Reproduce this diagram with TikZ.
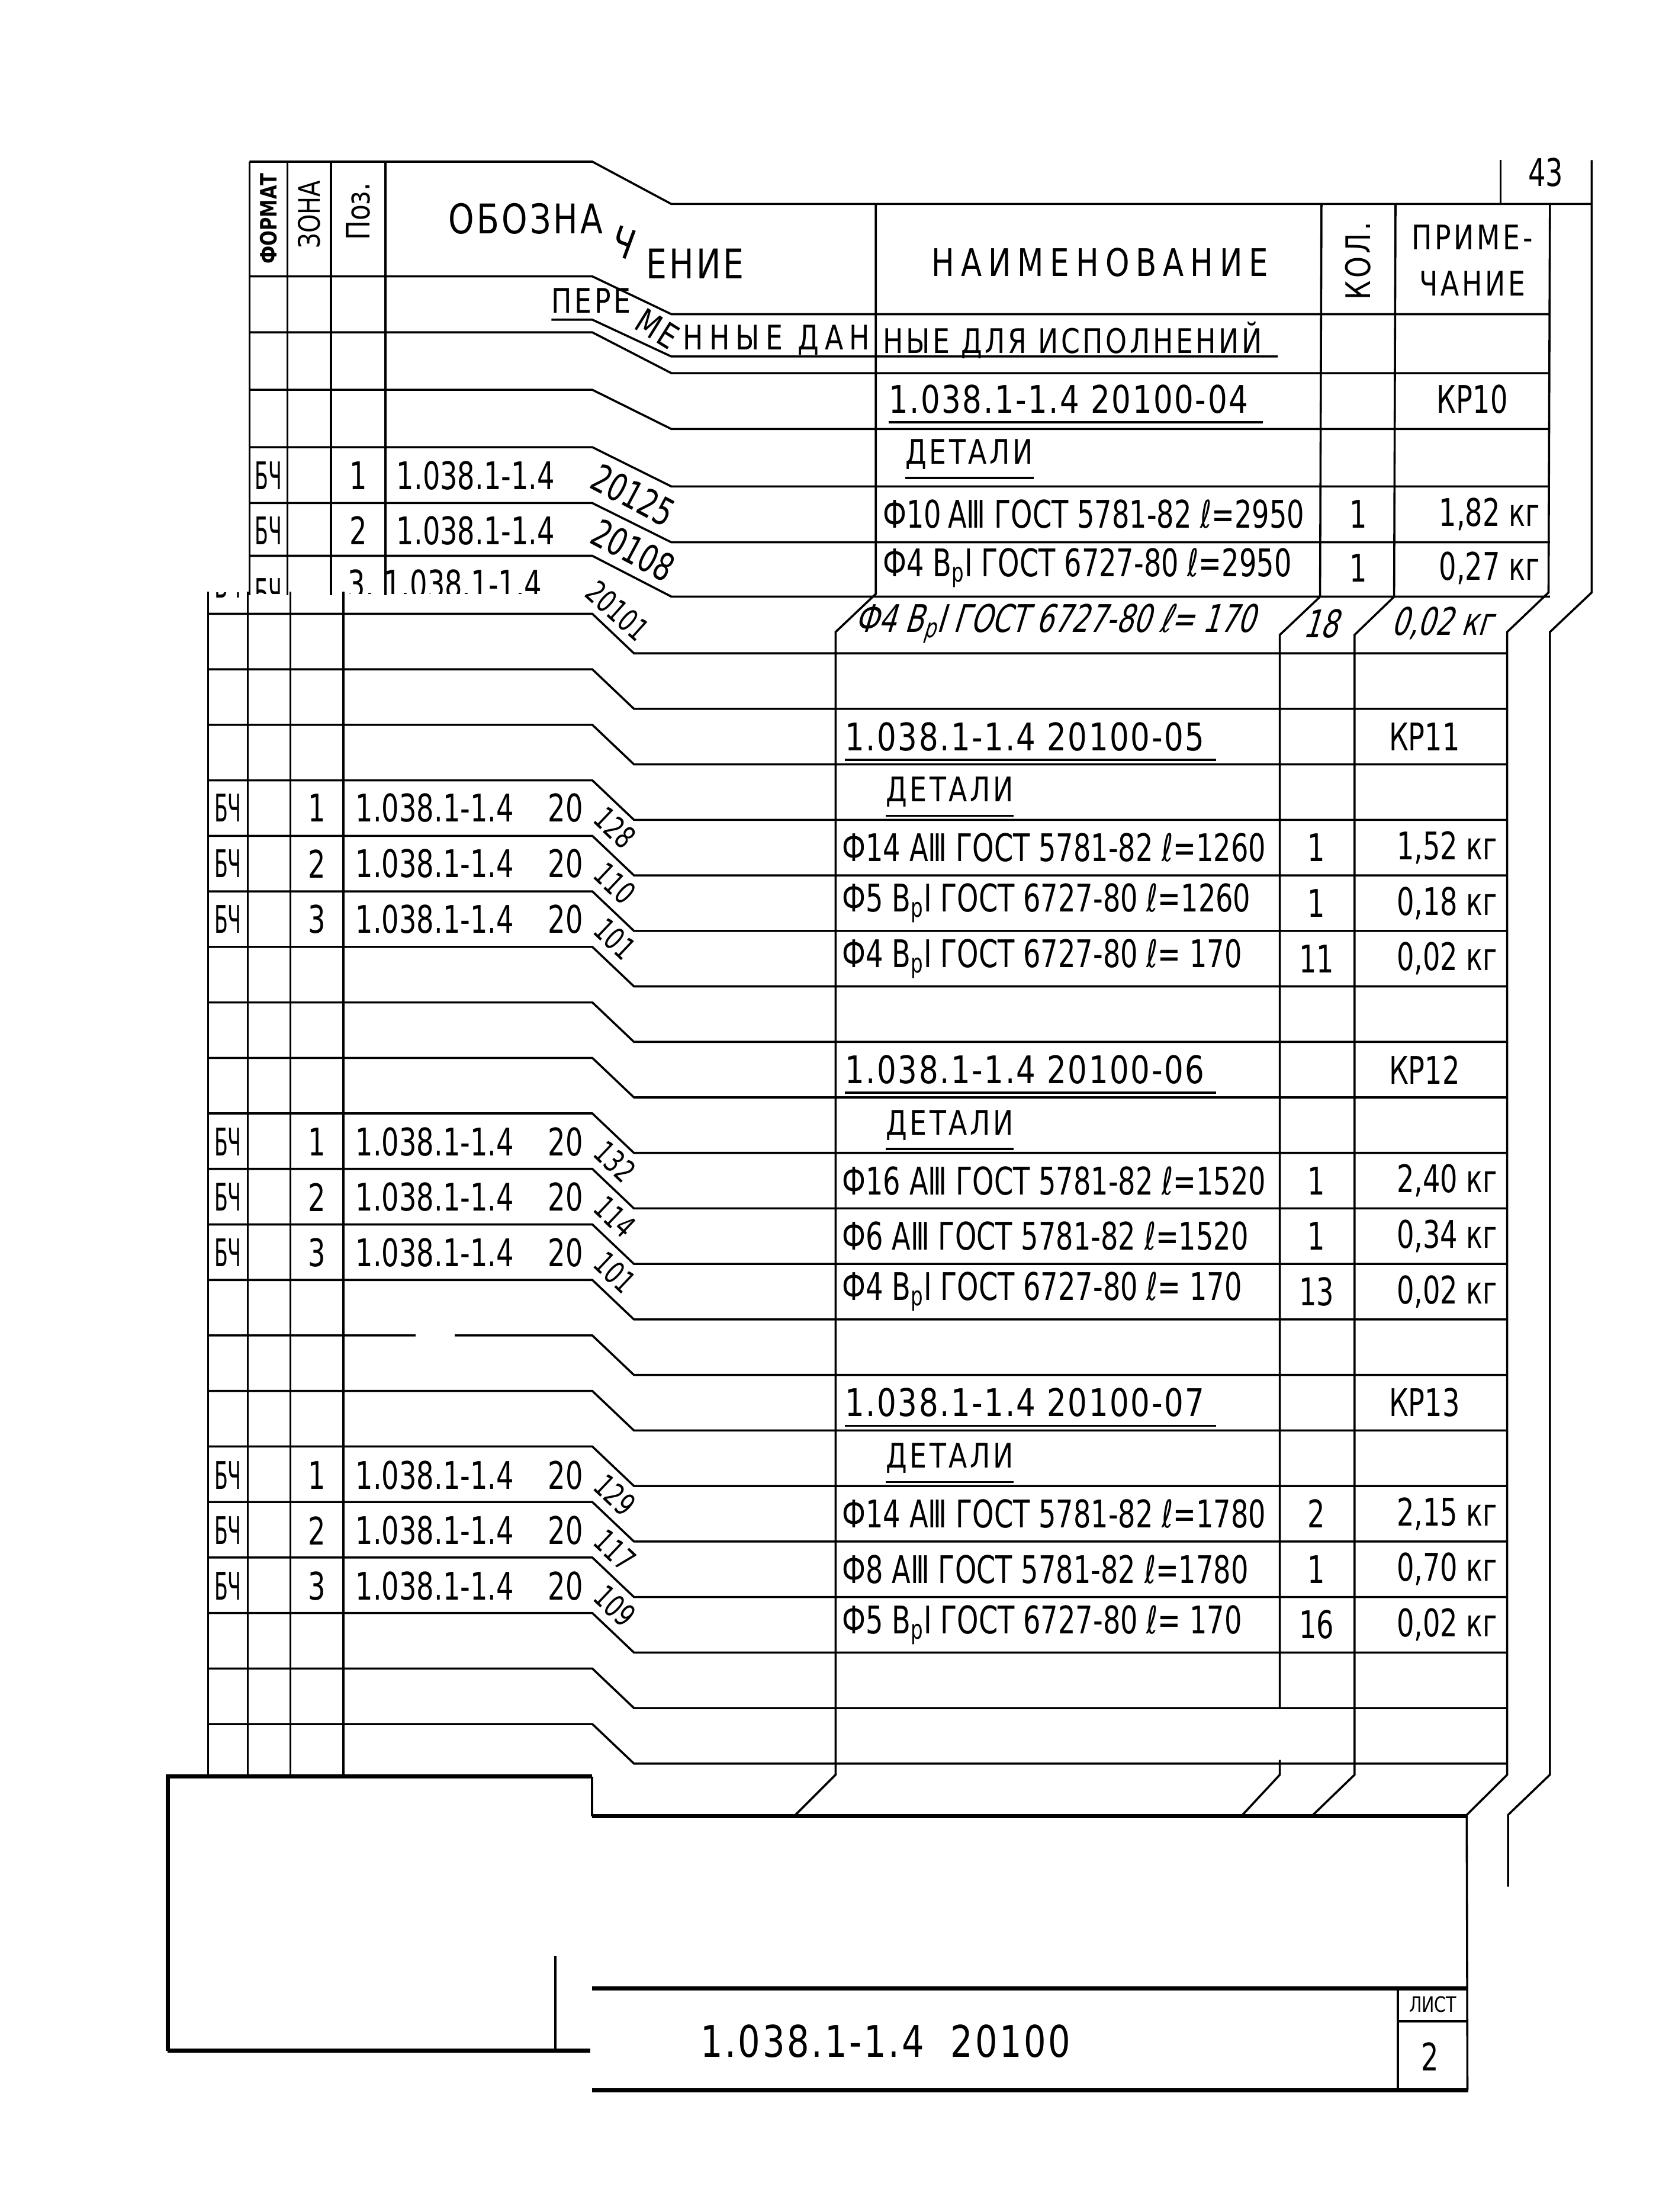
\documentclass[tikz,border=0pt]{standalone}
\usepackage{fontspec}
\setmainfont{DejaVu Sans}[FakeStretch=0.8]
\newfontfamily\narrowfont{DejaVu Sans}[FakeStretch=0.72]
\usepackage{graphicx}
\usepackage{tikz}

\newcommand\tfont{\narrowfont\fontsize{27}{29}\selectfont}
\newcommand\vfont{\fontsize{27}{29}\selectfont\addfontfeature{LetterSpace=4}}
\newcommand\sfxfont{\narrowfont\fontsize{22}{24}\selectfont}
\newcommand\hfont{\fontsize{27}{29}\selectfont\addfontfeature{LetterSpace=17}}
\newcommand\pfont{\fontsize{24}{26}\selectfont\addfontfeature{LetterSpace=8}}
\newcommand\bfont{\fontsize{29}{31}\selectfont\addfontfeature{LetterSpace=6}}
\newcommand\ifont{\narrowfont\fontsize{27}{29}\selectfont\addfontfeature{FakeSlant=0.3}}
\newcommand\Vp{В\textsubscript{р}Ⅰ}
\newcommand\BCh{\scalebox{0.72}[1]{БЧ}}

\newcommand\specrow[5]{%
  \node[cell,anchor=west] (n#1) at (597,#2) {#3};
  \node[cell] (q#1) at (933.5,#2) {#4};
  \node[cell,anchor=east] (m#1) at (1062,#2) {#5};}
\newcommand\posrow[4]{%
  \node[cell] (f#1) at (161.6,#2) {\BCh};
  \node[cell] (p#1) at (224.8,#2) {#3};
  \node[cell,anchor=west] (o#1) at (252,#2) {1.038.1-1.4};
  \node[cell] (t#1) at (401,#2) {20};
  \node[cell,font=\sfxfont,rotate=-43.5] (s#1) at (436,#2+14) {#4};}
\newcommand\varrow[4]{%
  \node[cell,anchor=west,font=\vfont] (v#1) at (599,#2) {1.038.1-1.4 20100-#3};
  \draw[rule] ([yshift=-6pt]v#1.south west) -- ([xshift=8pt,yshift=-6pt]v#1.south east);
  \node[cell] (k#1) at (1010,#2) {#4};}
\newcommand\detrow[2]{%
  \node[cell,anchor=west,font=\pfont] (d#1) at (628,#2) {ДЕТАЛИ};
  \draw[rule] ([yshift=-6pt]d#1.south west) -- ([yshift=-6pt]d#1.south east);}

\tikzset{
  rule/.style={line width=1.5pt},
  thickrule/.style={line width=3pt},
  cell/.style={inner sep=0pt,font=\tfont},
  htxt/.style={inner sep=0pt,font=\hfont},
  btxt/.style={inner sep=0pt,font=\bfont}
}

\begin{document}
\begin{tikzpicture}[x=1pt,y=-1pt]
  \fill[white] (0,0) rectangle (1174,1568);
  \useasboundingbox (0,0) rectangle (1174,1568);

  \draw[rule] (176.9,114.6) -- (420,114.6) -- (476,144.6) -- (1128.6,144.6);
  \foreach \a/\b in {195.9/222.7,235.6/264.5,276.3/304.1,317/344.8,356.6/384.4,394/422.9}
    \draw[rule] (176.9,\a) -- (420,\a) -- (476,\b) -- (1099,\b);
  \foreach \x in {176.9,203.9,234.7,273.2}
    \draw[rule] (\x,114.6) -- (\x,422);
  \draw[rule] (1064,113.5) -- (1064,144.6);
  \draw[rule] (621,144.6) -- (621,421) -- (592.5,448) -- (592.5,1258) -- (564,1286.5);
  \draw[rule] (937,144.6) -- (936,423) -- (907.5,450) -- (907.5,1210.5);
  \draw[rule] (907.5,1247.5) -- (907.5,1258) -- (881,1286.5);
  \draw[rule] (989.5,144.6) -- (988.5,423) -- (960.5,450) -- (960.5,1258) -- (931,1286.5);
  \draw[rule] (1099,144.6) -- (1098,420) -- (1068.7,448) -- (1068.7,1258) -- (1040,1286.5) -- (1040.5,1481.6);
  \draw[rule] (1128.6,113.5) -- (1128.6,420) -- (1099,448) -- (1099,1258) -- (1069.3,1286.5) -- (1069.3,1337.3);

  \foreach \k in {0,...,20}{
    \pgfmathsetmacro\ya{435.1+39.35*\k}
    \pgfmathsetmacro\yb{\ya+28}
    \draw[rule] (147.5,\ya) -- (420,\ya) -- (449.5,\yb) -- (1068.7,\yb);
  }
  \fill[white] (294.6,943) rectangle (322.4,950);
  \foreach \x in {147.5,175.7,206,243.5}
    \draw[rule] (\x,419.5) -- (\x,1259.3);

  \draw[thickrule] (118.9,1453.6) -- (118.9,1259.3) -- (419.7,1259.3);
  \draw[rule] (419.7,1259.3) -- (419.7,1287.5);
  \draw[thickrule] (419.7,1287.5) -- (1040,1287.5);
  \draw[thickrule] (118.9,1453.6) -- (418.7,1453.6);
  \draw[rule] (393.7,1386.5) -- (393.7,1453.6);
  \draw[thickrule] (419.6,1409.6) -- (1041,1409.6);
  \draw[thickrule] (419.6,1481.6) -- (1041,1481.6);
  \draw[rule] (991.2,1409.6) -- (991.2,1481.6);
  \draw[rule] (991.2,1432.7) -- (1041,1432.7);

  \node[inner sep=0pt,font=\fontsize{16}{17}\selectfont\bfseries,rotate=90] (hfmt) at (190.4,155) {ФОРМАТ};
  \node[inner sep=0pt,font=\fontsize{21}{22}\selectfont,rotate=90] (hzon) at (219.3,152) {ЗОНА};
  \node[inner sep=0pt,font=\fontsize{23}{24}\selectfont,rotate=90] (hpos) at (254,150) {Поз.};
  \node[btxt,anchor=west] (hobo) at (318,155) {ОБОЗНА};
  \node[btxt,rotate=-20] (hobc) at (442,172) {Ч};
  \node[btxt,anchor=west] (hobe) at (458,187) {ЕНИЕ};
  \node[htxt] (hnam) at (780,186) {НАИМЕНОВАНИЕ};
  \node[inner sep=0pt,font=\pfont,rotate=90] (hqty) at (963,185) {КОЛ.};
  \node[inner sep=0pt,font=\pfont] (hrm1) at (1044,168) {ПРИМЕ-};
  \node[inner sep=0pt,font=\pfont] (hrm2) at (1044,201) {ЧАНИЕ};
  \node[cell] (sheetno) at (1096,122) {43};

  \node[inner sep=0pt,font=\pfont,anchor=west] (var1) at (391,213) {ПЕРЕ};
  \node[inner sep=0pt,font=\pfont,rotate=-32] (var2) at (466,233) {МЕ};
  \node[inner sep=0pt,font=\pfont\addfontfeature{LetterSpace=18},anchor=east] (var3) at (617,241) {ННЫЕ ДАН};
  \node[inner sep=0pt,font=\pfont,anchor=west] (var4) at (626,241) {НЫЕ ДЛЯ ИСПОЛНЕНИЙ};
  \draw[rule] (391,226.6) -- (420,226.6) -- (476,252.7) -- (906,252.7);

  \node[cell,anchor=west,font=\vfont] (v0) at (630,283) {1.038.1-1.4 20100-04};
  \draw[rule] ([yshift=-6pt]v0.south west) -- ([xshift=10pt,yshift=-6pt]v0.south east);
  \node[cell] (k0) at (1044,283) {КР10};
  \node[cell,anchor=west,font=\pfont] (d0) at (642,322) {ДЕТАЛИ};
  \draw[rule] ([yshift=-6pt]d0.south west) -- ([yshift=-6pt]d0.south east);

  \node[cell] (uf1) at (190.4,337) {\BCh};
  \node[cell] (up1) at (254,337) {1};
  \node[cell,anchor=west] (uo1) at (281,337) {1.038.1-1.4};
  \node[cell,rotate=-28] (us1) at (449,351) {20125};
  \node[cell] (uf2) at (190.4,376) {\BCh};
  \node[cell] (up2) at (254,376) {2};
  \node[cell,anchor=west] (uo2) at (281,376) {1.038.1-1.4};
  \node[cell,rotate=-28] (us2) at (449,390) {20108};
  \node[cell,anchor=west] (un1) at (626,364.6) {Ф10\,АⅢ ГОСТ 5781-82 ℓ=2950};
  \node[cell] (uq1) at (963,364.6) {1};
  \node[cell,anchor=east] (um1) at (1092,364.6) {1,82 кг};
  \node[cell,anchor=west] (un2) at (626,402.6) {Ф4 \Vp\ ГОСТ 6727-80 ℓ=2950};
  \node[cell] (uq2) at (963,402.6) {1};
  \node[cell,anchor=east] (um2) at (1092,402.6) {0,27 кг};

  \begin{scope}
    \clip (170,395) rectangle (420,421);
    \node[cell] (uf3) at (190.4,420) {\BCh};
    \node[cell] (up3) at (256,414) {3.};
    \node[cell,anchor=west] (uo3) at (272,414) {1.038.1-1.4};
  \end{scope}
  \begin{scope}
    \clip (147.5,420) rectangle (176,436);
    \node[cell] (lf0) at (161.6,414) {\BCh};
  \end{scope}
  \node[cell,font=\sfxfont,rotate=-42] (us3) at (438,433) {20101};
  \node[inner sep=0pt,font=\ifont,anchor=west] (sn) at (606,442) {Ф4 \Vp\ ГОСТ 6727-80 ℓ= 170};
  \node[inner sep=0pt,font=\ifont] (sq) at (936,442) {18};
  \node[inner sep=0pt,font=\ifont,anchor=east] (sm) at (1058,442) {0,02 кг};

  \varrow{5}{522.15}{05}{КР11}
  \detrow{5}{561.5}
  \specrow{51}{600.85}{Ф14 АⅢ ГОСТ 5781-82 ℓ=1260}{1}{1,52 кг}
  \specrow{52}{640.2}{Ф5 \Vp\ ГОСТ 6727-80 ℓ=1260}{1}{0,18 кг}
  \specrow{53}{679.55}{Ф4 \Vp\ ГОСТ 6727-80 ℓ= 170}{11}{0,02 кг}
  \posrow{51}{572.85}{1}{128}
  \posrow{52}{612.2}{2}{110}
  \posrow{53}{651.55}{3}{101}

  \varrow{6}{758.25}{06}{КР12}
  \detrow{6}{797.6}
  \specrow{61}{836.95}{Ф16 АⅢ ГОСТ 5781-82 ℓ=1520}{1}{2,40 кг}
  \specrow{62}{876.3}{Ф6 АⅢ ГОСТ 5781-82 ℓ=1520}{1}{0,34 кг}
  \specrow{63}{915.65}{Ф4 \Vp\ ГОСТ 6727-80 ℓ= 170}{13}{0,02 кг}
  \posrow{61}{809.25}{1}{132}
  \posrow{62}{848.6}{2}{114}
  \posrow{63}{887.95}{3}{101}

  \varrow{7}{994.35}{07}{КР13}
  \detrow{7}{1033.7}
  \specrow{71}{1073.05}{Ф14 АⅢ ГОСТ 5781-82 ℓ=1780}{2}{2,15 кг}
  \specrow{72}{1112.4}{Ф8 АⅢ ГОСТ 5781-82 ℓ=1780}{1}{0,70 кг}
  \specrow{73}{1151.75}{Ф5 \Vp\ ГОСТ 6727-80 ℓ= 170}{16}{0,02 кг}
  \posrow{71}{1045.65}{1}{129}
  \posrow{72}{1085}{2}{117}
  \posrow{73}{1124.35}{3}{109}

  \node[cell,font=\fontsize{31}{33}\selectfont\addfontfeature{LetterSpace=5}] (doc) at (628,1447) {1.038.1-1.4 \ 20100};
  \node[inner sep=0pt,font=\fontsize{15}{16}\selectfont] (lst) at (1016,1421) {ЛИСТ};
  \node[cell] (lstno) at (1014,1458) {2};
\end{tikzpicture}
\end{document}
